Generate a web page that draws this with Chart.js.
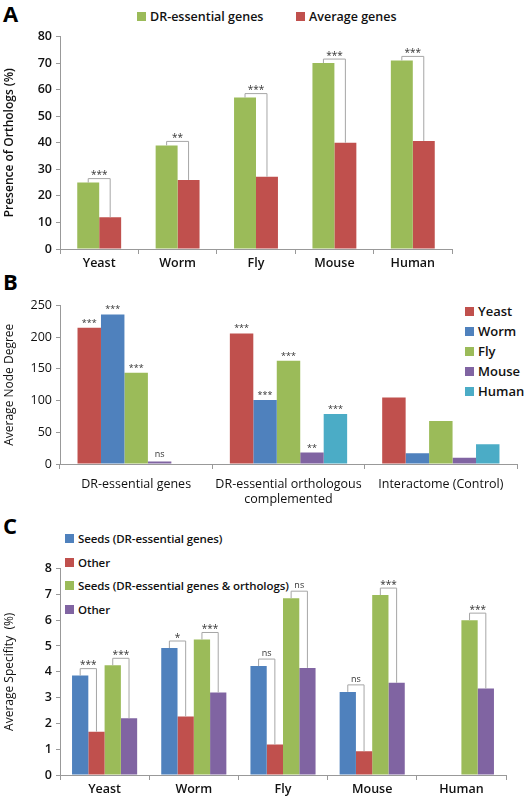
<!DOCTYPE html>
<html>
<head>
<meta charset="utf-8">
<script src="https://cdn.jsdelivr.net/npm/chart.js@4"></script>
<style>
  body { margin: 0; background: #fff; font-family: "Open Sans", sans-serif; }
  #page { position: relative; width: 529px; height: 800px; overflow: hidden; }
  .box { position: absolute; }
  .letter { position: absolute; font: bold 22px "Open Sans", sans-serif; color: #000; }
  .leg { position: absolute; font: 600 12.5px "Open Sans", sans-serif; color: #111; white-space: nowrap; }
  .leg i { display: inline-block; width: 9px; height: 9px; margin-right: 4px; }
</style>
</head>
<body>
<div id="page">
  <div class="letter" style="left:3px;top:-2px">A</div>
  <div class="letter" style="left:3px;top:266px">B</div>
  <div class="letter" style="left:3px;top:510px">C</div>

  <div class="leg" style="left:137px;top:8px"><i style="background:#9bbb59"></i>DR-essential genes</div>
  <div class="leg" style="left:296px;top:8px"><i style="background:#c0504d"></i>Average genes</div>

  <div class="leg" style="left:465px;top:301px;line-height:20px;font-weight:600;font-size:13px">
    <div><i style="background:#c0504d"></i>Yeast</div>
    <div><i style="background:#4f81bd"></i>Worm</div>
    <div><i style="background:#9bbb59"></i>Fly</div>
    <div><i style="background:#8064a2"></i>Mouse</div>
    <div><i style="background:#4bacc6"></i>Human</div>
  </div>

  <div class="leg" style="left:65px;top:527px;line-height:23.5px;font-size:11.5px;letter-spacing:-0.1px">
    <div><i style="background:#4f81bd"></i>Seeds (DR-essential genes)</div>
    <div><i style="background:#c0504d"></i>Other</div>
    <div><i style="background:#9bbb59"></i>Seeds (DR-essential genes &amp; orthologs)</div>
    <div><i style="background:#8064a2"></i>Other</div>
  </div>

  <div class="box" style="left:0;top:25px;width:462px;height:250px"><canvas id="chartA"></canvas></div>
  <div class="box" style="left:0;top:294px;width:520px;height:228px"><canvas id="chartB"></canvas></div>
  <div class="box" style="left:0;top:557px;width:510px;height:243px"><canvas id="chartC"></canvas></div>
</div>
<script>
// Panel A
const speciesA = ['Yeast', 'Worm', 'Fly', 'Mouse', 'Human'];
const drEssentialA = [25, 39, 57, 70, 71];
const averageA = [12, 26, 27.2, 40, 40.7];
const starsA = ['***', '**', '***', '***', '***'];
const ticksA = [0, 10, 20, 30, 40, 50, 60, 70, 80];

// Panel B
const groupsB = ['DR-essential genes', ['DR-essential orthologous', 'complemented'], 'Interactome (Control)'];
const yeastB = [215, 206, 105];
const wormB = [236, 101, 17];
const flyB = [144, 163, 68];
const mouseB = [4, 18, 10];
const humanB = [0, 79, 31];
const sigB = [
  ['***', '***', '***', 'ns', ''],
  ['***', '***', '***', '**', '***'],
  ['', '', '', '', '']
];

// Panel C
const speciesC = ['Yeast', 'Worm', 'Fly', 'Mouse', 'Human'];
const seedsC = [3.85, 4.92, 4.22, 3.22, null];
const otherC = [1.68, 2.27, 1.18, 0.92, null];
const seedsOrthC = [4.25, 5.25, 6.85, 6.97, 6.0];
const otherOrthC = [2.2, 3.2, 4.15, 3.57, 3.35];
const starsC1 = ['***', '*', 'ns', 'ns', ''];
const starsC2 = ['***', '***', 'ns', '***', '***'];

const FONT = '"Open Sans", sans-serif';

const bracketPlugin = {
  id: 'brackets',
  afterDatasetsDraw(chart, args, opts) {
    const ctx = chart.ctx;
    ctx.save();
    (opts.pairs || []).forEach(p => {
      const ma = chart.getDatasetMeta(p.a), mb = chart.getDatasetMeta(p.b);
      p.labels.forEach((lab, i) => {
        if (!lab) return;
        const ba = ma.data[i], bb = mb.data[i];
        const level = Math.min(ba.y, bb.y) - p.gap;
        ctx.strokeStyle = '#a6a6a6';
        ctx.lineWidth = 1;
        ctx.beginPath();
        ctx.moveTo(ba.x, ba.y);
        ctx.lineTo(ba.x, level);
        ctx.lineTo(bb.x, level);
        ctx.lineTo(bb.x, bb.y);
        ctx.stroke();
        ctx.fillStyle = '#333';
        ctx.font = (lab === 'ns' ? '9px ' : '10px ') + FONT;
        ctx.textAlign = 'center';
        ctx.textBaseline = 'bottom';
        ctx.fillText(lab, (ba.x + bb.x) / 2, level - (lab === 'ns' ? 1 : -2));
      });
    });
    (opts.tops || []).forEach((row, g) => {
      row.forEach((lab, d) => {
        if (!lab) return;
        const bar = chart.getDatasetMeta(d).data[g];
        ctx.fillStyle = '#333';
        ctx.font = '9px ' + FONT;
        ctx.textAlign = 'center';
        ctx.textBaseline = 'bottom';
        ctx.fillText(lab, bar.x, bar.y - (lab === 'ns' ? 3 : 0));
      });
    });
    ctx.restore();
  }
};

function axes(yMax, step, yTitle, yWidth, xHeight, bold) {
  return {
    x: {
      grid: { display: true, drawOnChartArea: false, offset: true, tickLength: 5, color: '#999' },
      border: { color: '#999' },
      ticks: { color: '#111', font: { family: FONT, size: 12.5, weight: bold ? '600' : 'normal' }, padding: 2, maxRotation: 0, autoSkip: false },
      afterFit: s => { s.height = xHeight; }
    },
    y: {
      min: 0, max: yMax,
      grid: { display: true, drawOnChartArea: false, tickLength: 4, color: '#999' },
      border: { color: '#999' },
      ticks: { stepSize: step, color: '#111', font: { family: FONT, size: 12.5, weight: '600' }, padding: 4 },
      title: { display: true, text: yTitle, color: '#111', font: { family: FONT, size: 12, weight: '600' }, padding: 2 },
      afterFit: s => { s.width = yWidth; }
    }
  };
}

function ds(label, data, color) {
  return { label, data, backgroundColor: color, borderWidth: 0, barPercentage: 1 };
}

new Chart(document.getElementById('chartA'), {
  type: 'bar',
  data: {
    labels: speciesA,
    datasets: [
      Object.assign(ds('DR-essential genes', drEssentialA, '#9bbb59'), { categoryPercentage: 0.56 }),
      Object.assign(ds('Average genes', averageA, '#c0504d'), { categoryPercentage: 0.56 })
    ]
  },
  options: {
    responsive: true, maintainAspectRatio: false, animation: false,
    layout: { padding: { top: 10, right: 10 } },
    scales: axes(ticksA[ticksA.length - 1], 10, 'Presence of Orthologs (%)', 60, 26, true),
    plugins: {
      legend: { display: false }, tooltip: { enabled: false },
      brackets: { pairs: [{ a: 0, b: 1, labels: starsA, gap: 4 }] }
    }
  },
  plugins: [bracketPlugin]
});

const cpB = 0.77;
new Chart(document.getElementById('chartB'), {
  type: 'bar',
  data: {
    labels: groupsB,
    datasets: [
      Object.assign(ds('Yeast', yeastB, '#c0504d'), { categoryPercentage: cpB }),
      Object.assign(ds('Worm', wormB, '#4f81bd'), { categoryPercentage: cpB }),
      Object.assign(ds('Fly', flyB, '#9bbb59'), { categoryPercentage: cpB }),
      Object.assign(ds('Mouse', mouseB, '#8064a2'), { categoryPercentage: cpB }),
      Object.assign(ds('Human', humanB, '#4bacc6'), { categoryPercentage: cpB })
    ]
  },
  options: {
    responsive: true, maintainAspectRatio: false, animation: false,
    layout: { padding: { top: 10, right: 3 } },
    scales: (() => {
      const s = axes(250, 50, 'Average Node Degree', 60, 58, false);
      s.y.ticks.font.weight = 'normal';
      s.y.title.font.weight = 'normal';
      s.x.ticks.font.weight = 'normal';
      s.x.ticks.padding = 8;
      return s;
    })(),
    plugins: {
      legend: { display: false }, tooltip: { enabled: false },
      brackets: { tops: sigB }
    }
  },
  plugins: [bracketPlugin]
});

const cpC = 0.73;
new Chart(document.getElementById('chartC'), {
  type: 'bar',
  data: {
    labels: speciesC,
    datasets: [
      Object.assign(ds('Seeds (DR-essential genes)', seedsC, '#4f81bd'), { categoryPercentage: cpC }),
      Object.assign(ds('Other', otherC, '#c0504d'), { categoryPercentage: cpC }),
      Object.assign(ds('Seeds (DR-essential genes & orthologs)', seedsOrthC, '#9bbb59'), { categoryPercentage: cpC }),
      Object.assign(ds('Other', otherOrthC, '#8064a2'), { categoryPercentage: cpC })
    ]
  },
  options: {
    responsive: true, maintainAspectRatio: false, animation: false,
    layout: { padding: { top: 10, right: 4 } },
    scales: (() => {
      const s = axes(8, 1, 'Average Specifity  (%)', 60, 25, true);
      s.y.title.font.weight = 'normal';
      return s;
    })(),
    plugins: {
      legend: { display: false }, tooltip: { enabled: false },
      brackets: { pairs: [
        { a: 0, b: 1, labels: starsC1, gap: 7 },
        { a: 2, b: 3, labels: starsC2, gap: 7 }
      ] }
    }
  },
  plugins: [bracketPlugin]
});
</script>
</body>
</html>
